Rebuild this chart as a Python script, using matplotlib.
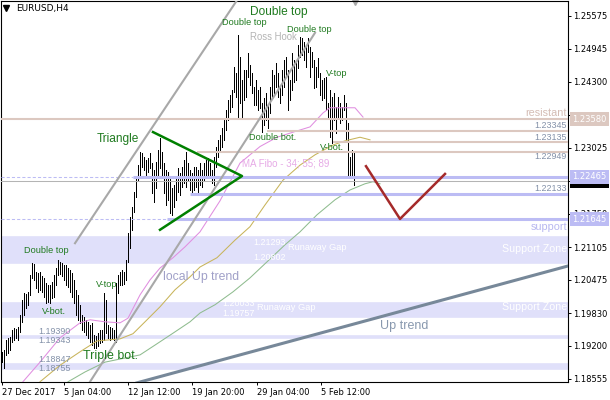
import matplotlib
matplotlib.use("Agg")
import matplotlib.pyplot as plt
from matplotlib.transforms import blended_transform_factory

# EURUSD H4 bars, oldest first (high / low of each bar)
highs = [
    1.1908, 1.1912, 1.1931, 1.1935, 1.1937, 1.1950, 1.1954, 1.1952, 1.1956, 1.1979,
    1.2008, 1.2022, 1.2020, 1.2024, 1.2057, 1.2080, 1.2078, 1.2062, 1.2060, 1.2062,
    1.2055, 1.2051, 1.2041, 1.2037, 1.2037, 1.2043, 1.2057, 1.2070, 1.2086, 1.2082,
    1.2080, 1.2076, 1.2076, 1.2070, 1.2066, 1.2060, 1.2047, 1.2028, 1.2018, 1.1999,
    1.1979, 1.1975, 1.1970, 1.1966, 1.1960, 1.1964, 1.1940, 1.1939, 1.1944, 1.1950,
    1.1950, 1.2022, 1.2008, 1.1960, 1.1956, 1.1954, 1.1950, 1.2041, 1.2057, 1.2062,
    1.2066, 1.2062, 1.2086, 1.2138, 1.2169, 1.2188, 1.2217, 1.2244, 1.2269, 1.2294,
    1.2292, 1.2285, 1.2279, 1.2283, 1.2292, 1.2273, 1.2260, 1.2275, 1.2298, 1.2322,
    1.2294, 1.2273, 1.2260, 1.2256, 1.2246, 1.2225, 1.2231, 1.2246, 1.2264, 1.2254,
    1.2266, 1.2279, 1.2294, 1.2273, 1.2260, 1.2254, 1.2266, 1.2266, 1.2260, 1.2273,
    1.2260, 1.2273, 1.2279, 1.2283, 1.2273, 1.2260, 1.2285, 1.2304, 1.2318, 1.2327,
    1.2341, 1.2356, 1.2376, 1.2395, 1.2405, 1.2414, 1.2459, 1.2447, 1.2521, 1.2478,
    1.2434, 1.2453, 1.2453, 1.2486, 1.2463, 1.2447, 1.2420, 1.2434, 1.2414, 1.2420,
    1.2389, 1.2399, 1.2408, 1.2385, 1.2420, 1.2453, 1.2443, 1.2467, 1.2447, 1.2420,
    1.2453, 1.2472, 1.2478, 1.2453, 1.2434, 1.2486, 1.2472, 1.2469, 1.2501, 1.2517,
    1.2515, 1.2507, 1.2498, 1.2515, 1.2498, 1.2488, 1.2472, 1.2459, 1.2476, 1.2447,
    1.2434, 1.2438, 1.2439, 1.2389, 1.2414, 1.2401, 1.2408, 1.2381, 1.2401, 1.2389,
    1.2381, 1.2405, 1.2389, 1.2351, 1.2285, 1.2298, 1.2294,
]
lows = [
    1.1888, 1.1877, 1.1902, 1.1906, 1.1912, 1.1927, 1.1931, 1.1935, 1.1931, 1.1946,
    1.1966, 1.1979, 1.1993, 1.1999, 1.2018, 1.2051, 1.2047, 1.2031, 1.2024, 1.2028,
    1.2024, 1.2014, 1.2002, 1.2004, 1.2002, 1.2012, 1.2014, 1.2037, 1.2057, 1.2059,
    1.2055, 1.2047, 1.2037, 1.2033, 1.2024, 1.2014, 1.2002, 1.1979, 1.1970, 1.1964,
    1.1950, 1.1946, 1.1940, 1.1935, 1.1927, 1.1921, 1.1915, 1.1915, 1.1919, 1.1925,
    1.1927, 1.1931, 1.1944, 1.1935, 1.1931, 1.1935, 1.1931, 1.1927, 1.2022, 1.2037,
    1.2037, 1.2039, 1.2047, 1.2082, 1.2109, 1.2144, 1.2178, 1.2207, 1.2240, 1.2250,
    1.2266, 1.2260, 1.2244, 1.2256, 1.2264, 1.2215, 1.2198, 1.2225, 1.2244, 1.2264,
    1.2250, 1.2215, 1.2192, 1.2202, 1.2176, 1.2173, 1.2188, 1.2202, 1.2217, 1.2211,
    1.2227, 1.2234, 1.2227, 1.2240, 1.2221, 1.2215, 1.2221, 1.2227, 1.2217, 1.2231,
    1.2227, 1.2240, 1.2246, 1.2246, 1.2244, 1.2234, 1.2231, 1.2266, 1.2285, 1.2298,
    1.2304, 1.2318, 1.2337, 1.2356, 1.2372, 1.2381, 1.2410, 1.2401, 1.2362, 1.2389,
    1.2362, 1.2395, 1.2401, 1.2439, 1.2424, 1.2408, 1.2385, 1.2385, 1.2376, 1.2380,
    1.2333, 1.2347, 1.2356, 1.2341, 1.2370, 1.2401, 1.2405, 1.2420, 1.2401, 1.2389,
    1.2405, 1.2420, 1.2439, 1.2376, 1.2395, 1.2414, 1.2430, 1.2434, 1.2457, 1.2478,
    1.2482, 1.2472, 1.2459, 1.2488, 1.2439, 1.2459, 1.2418, 1.2420, 1.2439, 1.2405,
    1.2395, 1.2399, 1.2376, 1.2362, 1.2323, 1.2312, 1.2356, 1.2331, 1.2362, 1.2351,
    1.2356, 1.2376, 1.2318, 1.2246, 1.2250, 1.2246, 1.2231,
]
last_price = 1.22378

# MA Fibo 34 / 55 / 89 (bar index, value)
ma34_x = [10, 19, 29, 39, 44, 51.5, 59, 63, 69, 74, 79, 85.5, 91.5, 99, 109, 119,
          129, 137.5, 149, 154, 160.5, 164, 176.5, 180.5]
ma34_y = [1.1848, 1.1888, 1.1935, 1.1964, 1.1970, 1.1966, 1.1964, 1.1973, 1.2018,
          1.2047, 1.2070, 1.2090, 1.2111, 1.2140, 1.2200, 1.2273, 1.2305, 1.2323,
          1.2337, 1.2343, 1.2370, 1.2380, 1.2380, 1.2362]
ma55_x = [19, 29, 39, 47.5, 59, 65.5, 71.5, 79, 86.5, 94, 99, 107.5, 116.5, 124,
          131.5, 140.5, 149, 156.5, 165.5, 171.5, 179, 184]
ma55_y = [1.1850, 1.1882, 1.1908, 1.1929, 1.1933, 1.1943, 1.1966, 1.1995, 1.2028,
          1.2053, 1.2072, 1.2090, 1.2124, 1.2150, 1.2192, 1.2240, 1.2269, 1.2289,
          1.2308, 1.2316, 1.2323, 1.2318]
ma89_x = [33, 41.5, 51.5, 61.5, 69, 76.5, 85.5, 94, 99, 106.5, 115.5, 124, 132.5,
          141.5, 149, 157.5, 166.5, 174, 181.5, 185.5, 189]
ma89_y = [1.1850, 1.1869, 1.1888, 1.1896, 1.1902, 1.1921, 1.1944, 1.1966, 1.1983,
          1.1999, 1.2024, 1.2051, 1.2082, 1.2115, 1.2140, 1.2173, 1.2202, 1.2221,
          1.2233, 1.2237, 1.2233]

# drawn objects: (bar index, price) anchors
channel_a = ([36.5, 117.5], [1.2118, 1.2588])
channel_b = ([44, 156.5], [1.1850, 1.2525])
up_trend = ([67.5, 283], [1.1848, 1.2074])
triangle = ([75.5, 120, 79], [1.2333, 1.2248, 1.2144])
forecast = ([182, 199, 221.5], [1.2267, 1.2165, 1.2252])

resistance = 1.23580
brown_levels = [(1.23345, 132.5), (1.23135, 165.5), (1.22949, 97.5)]
blue_levels = [(1.22465, 65.5, True), (1.22133, 94, False), (1.21645, 82.5, True)]
zones = [(1.21293, 1.20802), (1.20033, 1.19757), (1.19390, 1.19343), (1.18847, 1.18755)]

y_ticks = [1.25575, 1.24945, 1.24300, 1.23655, 1.23025, 1.22390, 1.21750,
           1.21105, 1.20475, 1.19830, 1.19200, 1.18555]
x_ticks = [0, 31, 63, 95, 127.5, 159.5]
x_labels = ['27 Dec 2017', '5 Jan 04:00', '12 Jan 12:00', '19 Jan 20:00',
            '29 Jan 04:00', '5 Feb 12:00']

BROWN = '#dcc8c0'
LAV = '#bcbcf4'
LAV_FILL = '#e0e0fa'
GREEN_TXT = '#1f7a1f'
NUM_TXT = '#8290a8'
ARIAL = 'Liberation Sans'

plt.rcParams['font.family'] = 'DejaVu Sans'

fig = plt.figure(figsize=(6.1, 4.0), dpi=100)
ax = fig.add_axes([1 / 610, 18 / 400, 567 / 610, 381 / 400])
ax.set_xlim(-0.5, 283)
ax.set_ylim(1.18496, 1.25865)

# zones
for top, bot in zones:
    ax.axhspan(bot, top, facecolor=LAV_FILL, edgecolor=LAV_FILL, linewidth=1.2, zorder=0.5)

# bars
bar_x = list(range(len(highs)))
ax.vlines(bar_x, lows, highs, colors='black', linewidth=0.5, antialiased=False, zorder=2)

# moving averages
ax.plot(ma34_x, ma34_y, color='#e08ee0', lw=0.75, zorder=3)
ax.plot(ma55_x, ma55_y, color='#c8b45a', lw=0.75, zorder=3)
ax.plot(ma89_x, ma89_y, color='#8fbc8f', lw=0.75, zorder=3)

# horizontal levels
ax.axhline(resistance, color=BROWN, lw=1.5, zorder=4)
for p, start in brown_levels:
    ax.hlines(p, start, 283, colors=BROWN, lw=1.5, zorder=4)
for p, start, dashed in blue_levels:
    ax.hlines(p, start, 283, colors=LAV, lw=2.2, zorder=4)
    if dashed:
        ax.hlines(p, -0.5, start, colors=LAV, lw=0.75, linestyles=(0, (3, 2)), zorder=4)
ax.axhline(last_price, color='#b4b4b4', lw=0.75, zorder=4)

# trend lines
ax.plot(*channel_a, color='#a8a8a8', lw=1.5, zorder=5)
ax.plot(*channel_b, color='#a8a8a8', lw=1.5, zorder=5)
ax.plot(*up_trend, color='#778899', lw=2.2, zorder=5)
ax.plot(*triangle, color='#008000', lw=1.8, zorder=5)
ax.plot(*forecast, color='#a52a2a', lw=1.8, zorder=5)


def label(i, p, s, color, size, ha='left'):
    ax.text(i, p, s, color=color, fontsize=size, family=ARIAL, ha=ha, va='center', zorder=6)


label(124, 1.2565, 'Double top', GREEN_TXT, 8.6)
label(110, 1.2544, 'Double top', GREEN_TXT, 6.6)
label(142.5, 1.2532, 'Double top', GREEN_TXT, 6.6)
label(124, 1.2517, 'Ross Hook', '#b4b4b4', 6.9)
label(162, 1.2447, 'V-top', GREEN_TXT, 6.6)
label(123.5, 1.2323, 'Double bot.', GREEN_TXT, 6.6)
label(159, 1.2304, 'V-bot.', GREEN_TXT, 6.6)
label(120, 1.2273, 'MA Fibo - 34; 55; 89', '#e6aae6', 7)
label(47.5, 1.2320, 'Triangle', GREEN_TXT, 8.6)
label(11, 1.2103, 'Double top', GREEN_TXT, 6.6)
label(20, 1.1985, 'V-bot.', GREEN_TXT, 6.6)
label(47, 1.2039, 'V-top', GREEN_TXT, 6.6)
label(40.5, 1.1900, 'Triple bot.', GREEN_TXT, 8.9)
label(80.5, 1.2053, 'local Up trend', '#a0a0c8', 8.8)
label(189, 1.1958, 'Up trend', '#8898ae', 9)
label(143, 1.2109, 'Runaway Gap', 'white', 6.7)
label(127.5, 1.1993, 'Runaway Gap', 'white', 6.7)
label(125.5, 1.2120, '1.21293', 'white', 6.4)
label(125.5, 1.2091, '1.20802', 'white', 6.4)
label(110, 1.2002, '1.20033', 'white', 6.4)
label(110, 1.1983, '1.19757', 'white', 6.4)
label(18, 1.1948, '1.19390', NUM_TXT, 6.4)
label(18, 1.1929, '1.19343', NUM_TXT, 6.4)
label(18, 1.1894, '1.18847', NUM_TXT, 6.4)
label(18, 1.1875, '1.18755', NUM_TXT, 6.4)
label(282.5, 1.2370, 'resistant', '#d4bcb4', 7.8, 'right')
label(282.5, 1.2345, '1.23345', NUM_TXT, 6.4, 'right')
label(282.5, 1.2323, '1.23135', NUM_TXT, 6.4, 'right')
label(282.5, 1.2285, '1.22949', NUM_TXT, 6.4, 'right')
label(282.5, 1.2223, '1.22133', NUM_TXT, 6.4, 'right')
label(282.5, 1.2149, 'support', '#b8b8f0', 7.8, 'right')
label(282.5, 1.2107, 'Support Zone', 'white', 7.7, 'right')
label(282.5, 1.1995, 'Support Zone', 'white', 7.7, 'right')

# axes
for sp in ax.spines.values():
    sp.set_color('black')
    sp.set_linewidth(0.8)
ax.yaxis.tick_right()
ax.set_yticks(y_ticks)
ax.set_yticklabels([f'{v:.5f}' for v in y_ticks])
ax.tick_params(axis='y', length=2.5, width=0.7, pad=1.5, labelsize=6)
ax.set_xticks(x_ticks)
ax.set_xticklabels(x_labels)
ax.tick_params(axis='x', length=2.5, width=0.7, pad=1.5, labelsize=6)
for lbl in ax.get_xticklabels():
    lbl.set_horizontalalignment('left')

# price boxes on the right scale
ytr = blended_transform_factory(ax.transAxes, ax.transData)


def price_box(p, s, fc, z):
    ax.text(1 + 4 / 567, p, s, transform=ytr, ha='left', va='center', fontsize=6,
            color='white', bbox=dict(boxstyle='square,pad=0.28', fc=fc, ec='none'),
            clip_on=False, zorder=z)


price_box(last_price, f'{last_price:.5f}', 'black', 7)
price_box(resistance, '1.23580', BROWN, 8)
price_box(1.22465, '1.22465', LAV, 8)
price_box(1.21645, '1.21645', LAV, 8)

# header and chart shift marker
ax.plot([5 / 567], [1 - 7 / 381], marker='v', color='black', markersize=4,
        transform=ax.transAxes, clip_on=False)
ax.text(15 / 567, 1 - 7 / 381, 'EURUSD,H4', transform=ax.transAxes, fontsize=6.5,
        ha='left', va='center', color='black')
ax.plot([176.5], [1.0], marker='v', color='#a8a8a8', markersize=6,
        transform=blended_transform_factory(ax.transData, ax.transAxes), clip_on=False)

fig.savefig('out.png', dpi=100)
